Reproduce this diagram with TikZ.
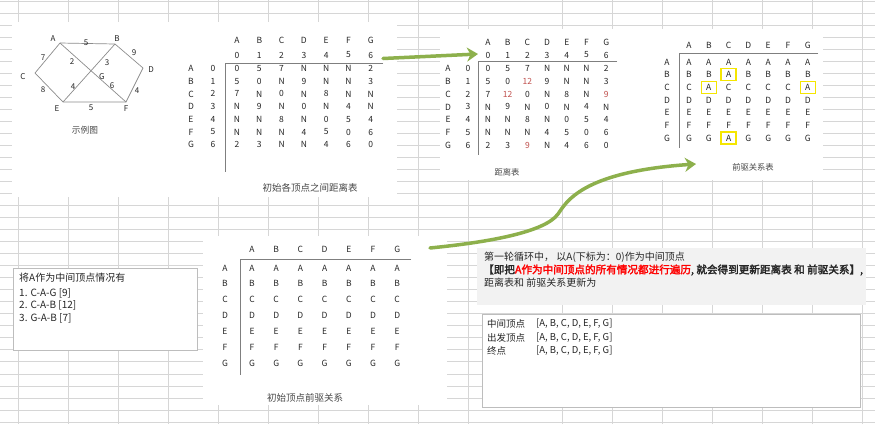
\documentclass[tikz,border=0pt]{standalone}
\usepackage{fontspec}
\setmainfont{Noto Sans CJK SC}
\newfontfamily\cjkb[FakeBold=2.5]{Noto Sans CJK SC}
\usetikzlibrary{arrows.meta}
\definecolor{gridc}{HTML}{D6D6D6}
\definecolor{txt}{HTML}{262626}
\definecolor{capc}{HTML}{474747}
\definecolor{tlc}{HTML}{7F7F7F}
\definecolor{edgec}{HTML}{8C8C8C}
\definecolor{dred}{HTML}{C0504D}
\definecolor{hly}{HTML}{F5E600}
\definecolor{garr}{HTML}{8DB04C}
\definecolor{boxc}{HTML}{BDBDBD}
\definecolor{grayfill}{HTML}{F2F2F2}
\definecolor{brightred}{HTML}{FF0000}
\begin{document}
\begin{tikzpicture}[x=1pt,y=-1pt,
  cell/.style={font=\fontsize{8.5}{9}\selectfont, text=txt, inner sep=0pt},
  glab/.style={font=\fontsize{8}{9}\selectfont, text=txt, inner sep=0pt},
  captxt/.style={font=\fontsize{9}{10}\selectfont, text=capc, inner sep=0pt},
  body/.style={font=\fontsize{10}{11}\selectfont, text=txt, inner sep=0pt, anchor=west},
  boxt/.style={font=\fontsize{9.5}{11}\selectfont, text=txt, inner sep=0pt, anchor=west},
  tline/.style={draw=tlc, line width=0.9pt},
  gedge/.style={draw=edgec, line width=0.7pt},
  garrow/.style={draw=garr, line width=3.5pt, line cap=round,
    -{Stealth[length=11pt,width=14pt,inset=3.5pt]}},
  hlbox/.style={draw=hly, line width=1.5pt, minimum width=15pt, minimum height=12pt, inner sep=0pt},
  whitearea/.style={fill=white, draw=none},
  framebox/.style={fill=white, draw=boxc, line width=1pt}
]
\useasboundingbox (0,0) rectangle (875,424);
\fill[white] (0,0) rectangle (875,424);
% spreadsheet grid
\foreach \gx in {18,68,118,168,218,268,318,368,418,468,562,612,662,712,762,812,862}
  \draw[gridc, line width=0.8pt] (\gx,0) -- (\gx,424);
\foreach \k in {-1,0,...,34}
  \draw[gridc, line width=0.8pt] (0,{13+12.03*\k}) -- (875,{13+12.03*\k});
% pasted image areas
\fill[whitearea] (12,22) rectangle (397,197);
\fill[whitearea] (440,29) rectangle (823,180);
\fill[whitearea] (203,236) rectangle (447,405);

% ---------- example graph ----------
\coordinate (vA) at (60,43);
\coordinate (vB) at (115,44);
\coordinate (vC) at (35,73);
\coordinate (vD) at (143,68);
\coordinate (vE) at (63,102);
\coordinate (vF) at (126,102);
\draw[gedge] (vA) -- (vB) -- (vD) -- (vF) -- (vE) -- (vC) -- cycle;
\draw[gedge] (vA) -- (vF);
\draw[gedge] (vB) -- (vE);
\node[glab] (lA) at (53,39) {A};
\node[glab] (lB) at (117,39) {B};
\node[glab] (lC) at (23,77) {C};
\node[glab] (lD) at (151,70) {D};
\node[glab] (lE) at (57,109) {E};
\node[glab] (lF) at (126,109) {F};
\node[glab] (lG) at (102,77) {G};
\node[glab] (wAB) at (86,43) {5};
\node[glab] (wAC) at (43,58) {7};
\node[glab] (wAG) at (72,62) {2};
\node[glab] (wBG) at (107,63) {3};
\node[glab] (wBD) at (134,53) {9};
\node[glab] (wCE) at (43,90) {8};
\node[glab] (wEG) at (73,87) {4};
\node[glab] (wGF) at (112,86) {6};
\node[glab] (wDF) at (137,91) {4};
\node[glab] (wEF) at (91,108) {5};
\node[captxt, font=\fontsize{8.7}{10}\selectfont] (capg) at (85,130) {示例图};

% ---------- initial distance table ----------
\foreach \L [count=\c from 0] in {A,B,C,D,E,F,G} {
  \node[cell] (t1h\c) at ({237+22.3*\c},40) {\L};
  \node[cell] (t1i\c) at ({237+22.3*\c},55) {\c};
  \node[cell] (t1r\c) at (191,{68.5+12.7*\c}) {\L};
  \node[cell] (t1j\c) at (213,{68.5+12.7*\c}) {\c};
}
\foreach \row [count=\r from 0] in {{0,5,7,N,N,N,2},{5,0,N,9,N,N,3},{7,N,0,N,8,N,N},{N,9,N,0,N,4,N},{N,N,8,N,0,5,4},{N,N,N,4,5,0,6},{2,3,N,N,4,6,0}} {
  \foreach \v [count=\c from 0] in \row {
    \node[cell] (t1-\r-\c) at ({237+22.3*\c},{68.5+12.7*\r}) {\v};
  }
}
\coordinate (t1a) at (383,63.5);
\coordinate (t1b) at (225,63.5);
\coordinate (t1c) at (225,172);
\draw[tline] (t1a) -- (t1b) -- (t1c);
\node[captxt, font=\fontsize{9.5}{10}\selectfont] (cap1) at (310,188) {初始各顶点之间距离表};

% ---------- distance table ----------
\foreach \L [count=\c from 0] in {A,B,C,D,E,F,G} {
  \node[cell] (t2h\c) at ({488+19.7*\c},42) {\L};
  \node[cell] (t2i\c) at ({488+19.7*\c},55) {\c};
  \node[cell] (t2r\c) at (448,{68.5+12.8*\c}) {\L};
  \node[cell] (t2j\c) at (468,{68.5+12.8*\c}) {\c};
}
\foreach \row [count=\r from 0] in {{0,5,7,N,N,N,2},{5,0,\textcolor{dred}{12},9,N,N,3},{7,\textcolor{dred}{12},0,N,8,N,\textcolor{dred}{9}},{N,9,N,0,N,4,N},{N,N,8,N,0,5,4},{N,N,N,4,5,0,6},{2,3,\textcolor{dred}{9},N,4,6,0}} {
  \foreach \v [count=\c from 0] in \row {
    \node[cell] (t2-\r-\c) at ({488+19.7*\c},{68.5+12.8*\r}) {\v};
  }
}
\coordinate (t2a) at (617,61.5);
\coordinate (t2b) at (478,61.5);
\coordinate (t2c) at (478,155);
\draw[tline] (t2a) -- (t2b) -- (t2c);
\node[captxt, font=\fontsize{8.3}{10}\selectfont] (cap2) at (507,172) {距离表};

% ---------- predecessor table ----------
\foreach \L [count=\c from 0] in {A,B,C,D,E,F,G} {
  \node[cell] (t3h\c) at ({689+19.8*\c},45) {\L};
  \node[cell] (t3r\c) at (667,{62+12.67*\c}) {\L};
}
\foreach \row [count=\r from 0] in {{A,A,A,A,A,A,A},{B,B,A,B,B,B,B},{C,A,C,C,C,C,A},{D,D,D,D,D,D,D},{E,E,E,E,E,E,E},{F,F,F,F,F,F,F},{G,G,A,G,G,G,G}} {
  \foreach \v [count=\c from 0] in \row {
    \node[cell] (t3-\r-\c) at ({689+19.8*\c},{62+12.67*\r}) {\v};
  }
}
\node[hlbox] (hl1) at (t3-1-2) {};
\node[hlbox] (hl2) at (t3-2-1) {};
\node[hlbox] (hl3) at (t3-2-6) {};
\node[hlbox] (hl4) at (t3-6-2) {};
\coordinate (t3a) at (818,53);
\coordinate (t3b) at (679,53);
\coordinate (t3c) at (679,148);
\draw[tline] (t3a) -- (t3b) -- (t3c);
\node[captxt, font=\fontsize{8.3}{10}\selectfont] (cap3) at (753,167) {前驱关系表};

% ---------- initial predecessor table ----------
\foreach \L [count=\c from 0] in {A,B,C,D,E,F,G} {
  \node[cell] (t4h\c) at ({252+24.2*\c},249) {\L};
  \node[cell] (t4r\c) at (225,{268+15.83*\c}) {\L};
  \foreach \cc in {0,...,6} {
    \node[cell] (t4-\c-\cc) at ({252+24.2*\cc},{268+15.83*\c}) {\L};
  }
}
\coordinate (t4a) at (411,259);
\coordinate (t4b) at (240,259);
\coordinate (t4c) at (240,375);
\draw[tline] (t4a) -- (t4b) -- (t4c);
\node[captxt, font=\fontsize{9.5}{10}\selectfont] (cap4) at (305,398) {初始顶点前驱关系};

% ---------- left text box ----------
\node[framebox, minimum width=184pt, minimum height=82pt, anchor=north west] (lbox) at (13,268) {};
\node[body] (lb1) at (19,278) {将A作为中间顶点情况有};
\node[body] (lb2) at (19,293) {1. C-A-G [9]};
\node[body] (lb3) at (19,305.5) {2. C-A-B [12]};
\node[body] (lb4) at (19,318) {3. G-A-B [7]};

% ---------- gray note ----------
\node[fill=grayfill, draw=none, minimum width=389pt, minimum height=57pt, anchor=north west] (gnote) at (477,248) {};
\node[body] (gn1) at (484,257) {第一轮循环中， 以A(下标为：0)作为中间顶点};
\node[body, font=\fontsize{10.6}{12}\selectfont] (gn2) at (483,270) {\cjkb 【即把\textcolor{brightred}{A作为中间顶点的所有情况都进行遍历}, 就会得到更新距离表 和 前驱关系】,};
\node[body] (gn3) at (484,283) {距离表和 前驱关系更新为};

% ---------- bottom right box ----------
\node[framebox, minimum width=378pt, minimum height=93pt, anchor=north west] (rbox) at (482,314) {};
\node[boxt] (rb1) at (487,324) {中间顶点};
\node[boxt] (rb2) at (487,337.5) {出发顶点};
\node[boxt] (rb3) at (487,351) {终点};
\node[boxt] (rl1) at (536,324) {[A, B, C, D, E, F, G]};
\node[boxt] (rl2) at (536,337.5) {[A, B, C, D, E, F, G]};
\node[boxt] (rl3) at (536,351) {[A, B, C, D, E, F, G]};

% ---------- green arrows ----------
\coordinate (a1s) at (383,58.5);
\coordinate (a1e) at (478,54);
\draw[garrow] (a1s) -- (a1e);
\coordinate (a2s) at (430,248);
\coordinate (a2m) at (558,214);
\coordinate (a2e) at (696,164);
\draw[garrow] (a2s) .. controls (490,242) and (545,232) .. (a2m)
  .. controls (566,203) and (580,172) .. (a2e);
\end{tikzpicture}
\end{document}
